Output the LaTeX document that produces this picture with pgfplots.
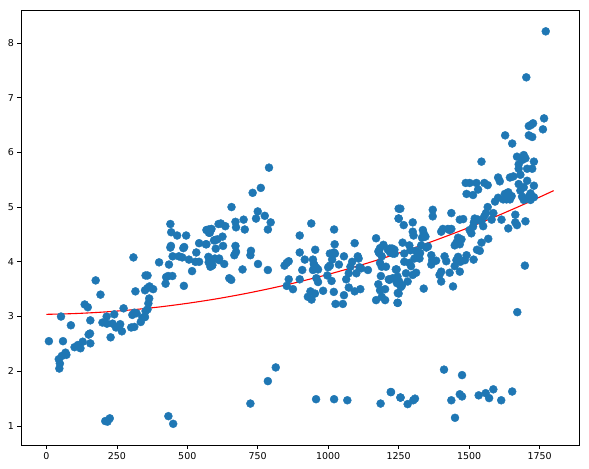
\documentclass[border=0pt]{standalone}
\usepackage{fontspec}
\setmainfont{DejaVu Sans}
\usepackage{pgfplots}
\pgfplotsset{compat=1.18}
\definecolor{mplblue}{HTML}{1F77B4}

\begin{document}
\begin{tikzpicture}
\begin{axis}[
    at={(0,0)}, anchor=south west,
    width=558bp, height=435bp, scale only axis,
    xmin=-90, xmax=1890,
    ymin=0.653, ymax=8.6,
    xtick={0,250,500,750,1000,1250,1500,1750},
    ytick={1,2,3,4,5,6,7,8},
    xtick pos=bottom, ytick pos=left,
    tick align=outside,
    major tick length=3.5bp,
    tick style={black, line width=0.6pt},
    axis line style={black, line width=0.6pt},
    ticklabel style={font=\fontsize{9.5}{11}\selectfont},
    /pgf/number format/assume math mode=true,
    /pgf/number format/1000 sep={},
    clip=false,
]
% scatter of the observations
\addplot[only marks, mark=*, mark size=4bp, mplblue, mark options={draw=mplblue, fill=mplblue}] coordinates {
(9,2.55) (52,3.0) (59,2.55) (87,2.84) (44,2.22) (48,2.14) (46,2.05) (55,2.28)
(71,2.3) (68,2.34) (100,2.44) (112,2.48) (121,2.42) (129,2.54) (136,3.22) (147,3.17)
(156,2.93) (150,2.67) (155,2.69) (156,2.51) (175,3.66) (192,3.40) (199,2.89) (214,3.0)
(215,2.87) (228,2.62) (235,2.87) (241,3.04) (247,2.8) (258,2.82) (262,2.86) (268,2.73)
(274,3.15) (301,2.8) (305,3.03) (312,3.07) (320,3.06) (312,2.81) (309,4.08) (316,3.46)
(335,2.9) (341,2.98) (350,2.99) (352,3.1) (359,3.13) (362,3.24) (365,3.33) (350,3.48)
(359,3.52) (352,3.75) (366,3.55) (379,3.5) (359,3.75) (400,3.99) (423,3.6) (425,3.72)
(432,3.74) (447,3.74) (435,3.95) (440,4.26) (442,4.29) (448,4.1) (440,4.69) (443,4.54)
(464,4.48) (470,4.1) (482,4.08) (486,4.25) (489,4.27) (496,4.48) (488,3.56) (506,4.04)
(517,3.83) (529,4.0) (532,4.17) (566,4.32) (568,4.58) (576,4.59) (580,4.53) (586,4.6)
(576,3.99) (582,3.91) (588,3.93) (598,4.06) (600,4.4) (611,4.69)
(209,1.09) (217,1.08) (225,1.14) (433,1.18) (450,1.04)
(542,4.34) (542,4.0) (568,4.32) (571,4.58) (583,4.59) (577,4.53) (575,4.09) (583,4.03)
(589,3.94) (595,4.39) (601,4.24) (607,4.41) (613,4.03) (619,4.70) (625,4.46) (627,4.29)
(635,4.65) (631,3.96) (613,4.06) (649,3.70) (656,3.67) (657,5.0) (671,4.73) (673,4.63)
(671,4.29) (673,4.18) (667,4.12) (696,3.86) (700,4.77) (704,4.59) (726,4.2) (724,4.12)
(732,5.26) (744,4.79) (750,4.92) (751,3.96) (761,5.35) (775,4.84) (786,4.59) (796,4.72)
(786,3.85) (790,5.72) (724,1.41) (786,1.82) (814,2.07)
(845,3.93) (853,3.98) (860,4.01) (860,3.68) (853,3.56) (875,3.50) (899,4.48) (899,4.17)
(917,4.04) (908,3.85) (899,3.68) (928,3.36) (941,3.31) (937,3.46) (940,4.70) (946,4.04)
(949,3.96) (946,3.85) (952,3.93) (958,3.89) (964,3.86) (954,4.22) (958,3.7) (964,3.63)
(953,3.42) (982,3.47) (997,3.75) (1000,3.9) (1006,3.93) (1012,3.65) (1006,4.15) (1021,4.59)
(1014,4.04) (1020,4.17) (1024,4.15) (1023,4.32) (1020,3.45) (1026,3.23) (1052,3.23) (1038,3.95)
(1056,4.10) (1056,3.39) (1064,3.68) (1073,3.79) (1079,3.91) (1073,3.53) (1085,4.0) (1094,3.46)
(1094,4.34) (1105,4.1) (1108,4.06) (1111,3.9) (1114,3.5) (1117,3.88) (1100,3.79) (1141,3.85)
(1170,3.3) (1170,4.43) (1178,4.19) (1181,4.16) (1184,4.25) (1190,4.1) (1184,3.98) (1190,3.91)
(1187,3.74) (1178,3.59) (1184,3.48) (1190,3.36) (1196,4.31) (1202,3.5) (1202,3.3) (1205,3.91)
(1212,4.22) (1218,4.24) (1215,3.68) (1220,4.17) (1228,4.24) (1236,4.15) (1240,3.86) (1241,3.68)
(1244,3.61) (1247,3.43) (1247,3.25) (1250,4.79) (1250,4.97)
(957,1.49) (1021,1.49) (1068,1.47) (1186,1.41) (1222,1.62) (1256,1.52)
(1223,4.24) (1229,4.15) (1235,4.22) (1217,3.67) (1229,3.70) (1243,3.86) (1246,3.73) (1252,3.64)
(1250,3.42) (1246,3.25) (1258,3.54) (1262,3.57) (1256,4.97) (1250,4.79) (1268,4.67) (1264,4.35)
(1270,4.15) (1270,4.0) (1276,3.79) (1282,3.64) (1288,4.3) (1292,4.21) (1300,4.55) (1300,4.72)
(1303,4.48) (1288,3.98) (1294,3.92) (1300,3.76) (1306,4.06) (1312,3.8) (1312,4.2) (1318,4.12)
(1324,4.06) (1326,4.16) (1330,4.3) (1333,4.44) (1336,4.58) (1339,4.52) (1345,4.46) (1339,3.51)
(1348,4.26) (1354,4.28) (1366,3.95) (1369,4.03) (1366,4.12) (1371,4.83) (1371,4.95) (1383,4.02)
(1395,3.76) (1401,3.82) (1401,3.64) (1401,4.55) (1407,4.6) (1413,4.1) (1419,4.01) (1425,4.6)
(1431,4.58) (1437,4.6) (1437,4.89) (1443,3.55) (1431,3.8) (1449,3.92) (1455,4.03) (1461,4.09)
(1449,4.3) (1455,4.35) (1461,4.44) (1467,4.32) (1473,4.41) (1467,3.82) (1469,4.0) (1467,4.77)
(1479,4.78) (1485,4.03) (1491,4.12) (1488,5.44) (1491,5.24) (1502,5.44) (1514,5.22) (1502,4.58)
(1508,4.52) (1514,4.64) (1517,4.72) (1520,4.79) (1516,4.04) (1528,4.22) (1538,4.2) (1544,4.35)
(1526,5.44) (1532,5.32) (1544,5.83) (1532,4.77) (1544,4.74) (1550,4.65) (1554,4.83) (1560,4.89)
(1566,5.0) (1554,5.44) (1566,5.40) (1568,4.42) (1580,4.77) (1586,4.89) (1592,5.1) (1603,5.54)
(1609,5.47) (1603,5.17) (1621,5.14) (1627,5.24) (1633,5.14) (1639,5.27) (1645,5.54) (1645,5.14)
(1651,5.2) (1657,5.56) (1615,4.77) (1639,4.61) (1628,6.31) (1653,6.16) (1664,4.72) (1670,4.67)
(1664,4.86) (1670,5.92) (1676,5.78) (1676,5.70) (1682,5.59) (1676,5.42) (1682,5.30) (1688,5.19)
(1694,5.13) (1688,5.86) (1694,5.95) (1700,5.89) (1706,5.70) (1706,5.48) (1694,5.36) (1712,5.19)
(1718,5.25) (1718,5.13) (1724,5.70) (1730,5.83) (1730,5.39) (1730,5.18) (1700,4.74) (1698,3.93)
(1671,3.08) (1703,7.37) (1712,6.48) (1720,6.50) (1727,6.53) (1712,6.31) (1724,6.28) (1762,6.42)
(1766,6.62) (1772,8.21)
(1223,1.62) (1257,1.52) (1282,1.40) (1302,1.47) (1308,1.50) (1411,2.03) (1437,1.47) (1450,1.15)
(1475,1.93) (1467,1.58) (1475,1.54) (1534,1.56) (1559,1.60) (1571,1.51) (1586,1.67) (1614,1.47)
(1653,1.63)
};
% fitted curve
\addplot[red, line width=1.1pt, smooth] coordinates {
(0,3.040) (100,3.054) (200,3.081) (300,3.121) (400,3.174) (500,3.241) (600,3.320)
(700,3.413) (800,3.519) (900,3.638) (1000,3.770) (1100,3.915) (1200,4.074) (1300,4.245)
(1400,4.430) (1500,4.628) (1600,4.839) (1700,5.063) (1800,5.300)
};
\end{axis}
\pgfresetboundingbox
\path[use as bounding box] (-21bp,-24bp) rectangle (568bp,445bp);
\end{tikzpicture}
\end{document}
